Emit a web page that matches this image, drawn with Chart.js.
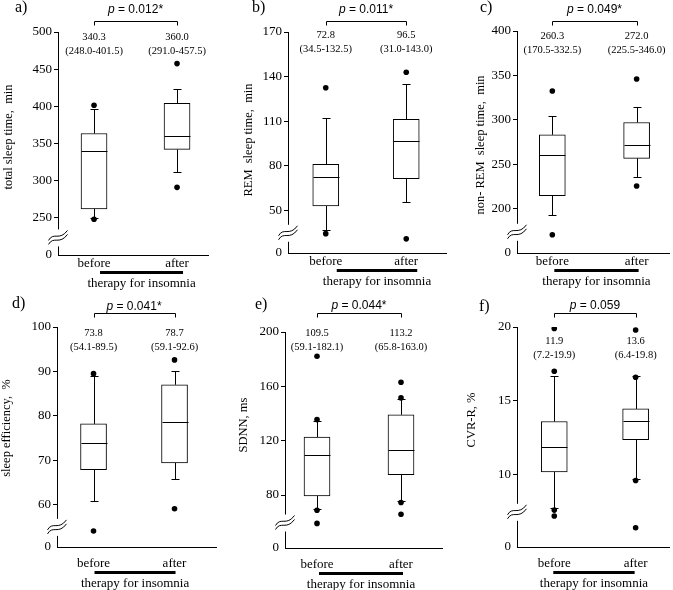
<!DOCTYPE html>
<html>
<head>
<meta charset="utf-8">
<script src="https://cdn.jsdelivr.net/npm/chart.js@4/dist/chart.umd.min.js"></script>
<style>
  html, body { margin: 0; padding: 0; background: #fff; }
  #wrap { position: relative; width: 673px; height: 590px; overflow: hidden; }
  #wrap canvas { position: absolute; }
</style>
</head>
<body>
<div id="wrap"></div>
<script>
const groups = ['before', 'after'];
const therapyLabel = 'therapy for insomnia';

// a) total sleep time  (box = q1, median, q3)
const tstTicks = [250, 300, 350, 400, 450, 500];
const tstBox = [[262, 340.3, 363.5], [342, 360.0, 404]];
const tstWhisker = [[250, 396], [312, 423]];
const tstOutliers = [[401.5, 248.0], [457.5, 291.0]];

// b) REM sleep time
const remTicks = [50, 80, 110, 140, 170];
const remBox = [[53.1, 72.8, 81.1], [71.5, 96.5, 111.3]];
const remWhisker = [[37, 112.5], [55.8, 134.9]];
const remOutliers = [[132.5, 34.5], [143.0, 31.0]];

// c) non-REM sleep time
const nremTicks = [200, 250, 300, 350, 400];
const nremBox = [[214.6, 260.3, 283.1], [256.6, 272.0, 297]];
const nremWhisker = [[193.3, 304.1], [235.6, 314.2]];
const nremOutliers = [[332.5, 170.5], [346.0, 225.5]];

// d) sleep efficiency
const seTicks = [60, 70, 80, 90, 100];
const seBox = [[67.9, 73.8, 78.2], [69.4, 78.7, 87.0]];
const seWhisker = [[60.8, 89.0], [65.8, 90.1]];
const seOutliers = [[89.5, 54.1], [92.6, 59.1]];

// e) SDNN
const sdnnTicks = [80, 120, 160, 200];
const sdnnBox = [[79.3, 109.5, 122.7], [95, 113.2, 139.1]];
const sdnnWhisker = [[69.5, 134.5], [75.5, 150.5]];
const sdnnOutliers = [[182.1, 135.5, 68.8, 59.1], [163.0, 151.5, 74.5, 65.8]];

// f) CVR-R
const cvrTicks = [10, 15, 20];
const cvrBox = [[10.18, 11.9, 13.6], [12.37, 13.6, 14.45]];
const cvrWhisker = [[7.75, 16.7], [9.7, 16.7]];
const cvrOutliers = [[19.9, 17.0, 7.6, 7.2], [19.8, 16.6, 9.6, 6.4]];

const letters = ['a)', 'b)', 'c)', 'd)', 'e)', 'f)'];
const yTitles = ['total sleep time,  min', 'REM  sleep time,  min', 'non- REM  sleep time,  min',
                 'sleep efficiency,  %', 'SDNN, ms', 'CVR-R, %'];
const pValues = ['0.012*', '0.011*', '0.049*', '0.041*', '0.044*', '0.059'];

// placement of each panel on the page (pixels) and of the axis break value
const layout = [
  { left: 0,   top: 0,   w: 220, h: 290, axisW: 58, padR: 12, padT: 32, xH: 35, yMin: 200,  xMin: 0.566, xMax: 2.373,
    letX: 15, letY: 8,  titX: 9,  titY: 137, pY: 10, brY: 21, annY: 37, labPad: 1, barShift: 6 },
  { left: 220, top: 0,   w: 230, h: 290, axisW: 68, padR: 3,  padT: 32, xH: 37, yMin: 21.5, xMin: 0.531, xMax: 2.494,
    letX: 32, letY: 8,  titX: 29, titY: 140, pY: 10, brY: 21, annY: 35, labPad: 1, barShift: 11 },
  { left: 440, top: 0,   w: 233, h: 290, axisW: 77, padR: 1,  padT: 31, xH: 37, yMin: 150,  xMin: 0.581, xMax: 2.384,
    letX: 40, letY: 8,  titX: 41, titY: 145, pY: 10, brY: 21, annY: 36, labPad: 1, barShift: 2 },
  { left: 0,   top: 290, w: 220, h: 300, axisW: 57, padR: 2,  padT: 37, xH: 43, yMin: 50.5, xMin: 0.549, xMax: 2.512,
    letX: 12, letY: 14, titX: 7,  titY: 138, pY: 17, brY: 23, annY: 43, labPad: 9, barShift: 1 },
  { left: 220, top: 290, w: 230, h: 300, axisW: 65, padR: 8,  padT: 42, xH: 42, yMin: 41,   xMin: 0.619, xMax: 2.488,
    letX: 35, letY: 15, titX: 24, titY: 135, pY: 16, brY: 23, annY: 43, labPad: 9, barShift: 2 },
  { left: 440, top: 290, w: 233, h: 300, axisW: 77, padR: 1,  padT: 37, xH: 43, yMin: 5.1,  xMin: 0.542, xMax: 2.41,
    letX: 39, letY: 17, titX: 32, titY: 130, pY: 16, brY: 23, annY: 51, labPad: 9, barShift: -1 }
];

const SERIF = "'Liberation Serif', 'DejaVu Serif', serif";
const SANS = "'Liberation Sans', Arial, sans-serif";
Chart.defaults.color = '#000';
Chart.defaults.font.family = SERIF;

const wrap = document.getElementById('wrap');

function makePanel(i, ticks, box, whisker, outliers) {
  const L = layout[i];
  const cv = document.createElement('canvas');
  cv.width = L.w; cv.height = L.h;
  cv.style.left = L.left + 'px'; cv.style.top = L.top + 'px';
  cv.style.width = L.w + 'px'; cv.style.height = L.h + 'px';
  wrap.appendChild(cv);

  const boxData = groups.map((g, k) => ({ x: k + 1, y: [box[k][0], box[k][2]] }));
  const outData = [];
  outliers.forEach((vals, k) => vals.forEach(v => outData.push({ x: k + 1, y: v })));

  const drawPanel = {
    id: 'panel' + i,
    afterDatasetsDraw(chart) {
      const { ctx, scales: { y } } = chart;
      const bars = chart.getDatasetMeta(0).data;
      ctx.save();
      ctx.strokeStyle = '#000';
      ctx.lineWidth = 1;
      bars.forEach((bar, k) => {
        const cx = Math.round(bar.x) + 0.5;
        const half = bar.width / 2;
        const yq1 = y.getPixelForValue(box[k][0]);
        const yq3 = y.getPixelForValue(box[k][2]);
        const ymed = Math.round(y.getPixelForValue(box[k][1])) + 0.5;
        const ylo = Math.round(y.getPixelForValue(whisker[k][0])) + 0.5;
        const yhi = Math.round(y.getPixelForValue(whisker[k][1])) + 0.5;
        ctx.beginPath();
        ctx.moveTo(cx - half, ymed); ctx.lineTo(cx + half, ymed);
        ctx.moveTo(cx, yq3); ctx.lineTo(cx, yhi);
        ctx.moveTo(cx - 4, yhi); ctx.lineTo(cx + 4, yhi);
        ctx.moveTo(cx, yq1); ctx.lineTo(cx, ylo);
        ctx.moveTo(cx - 4, ylo); ctx.lineTo(cx + 4, ylo);
        ctx.stroke();
      });
      ctx.restore();
    },
    afterDraw(chart) {
      const { ctx, chartArea: ca, scales: { x, y } } = chart;
      const x1 = x.getPixelForValue(1), x2 = x.getPixelForValue(2);
      ctx.save();
      ctx.strokeStyle = '#000';
      ctx.fillStyle = '#000';

      // y axis line with break
      const ax = Math.round(ca.left) + 0.5;
      const yLow = y.getPixelForValue(ticks[0]);
      const mid = (yLow + ca.bottom) / 2 + 1;
      ctx.lineWidth = 1;
      ctx.beginPath();
      ctx.moveTo(ax, ca.top); ctx.lineTo(ax, mid - 8);
      ctx.moveTo(ax, mid + 9); ctx.lineTo(ax, ca.bottom);
      ctx.stroke();
      ctx.lineWidth = 1;
      [-2, 2].forEach(d => {
        ctx.beginPath();
        ctx.moveTo(ax - 10, mid + 5 + d);
        ctx.bezierCurveTo(ax - 5, mid - 4 + d, ax + 1, mid + 6 + d, ax + 9, mid - 5 + d);
        ctx.stroke();
      });

      // panel letter
      ctx.textBaseline = 'middle';
      ctx.textAlign = 'left';
      ctx.font = '16px ' + SERIF;
      ctx.fillText(letters[i], L.letX, L.letY);

      // y axis title
      ctx.save();
      ctx.translate(L.titX, L.titY);
      ctx.rotate(-Math.PI / 2);
      ctx.textAlign = 'center';
      ctx.font = '12.5px ' + SERIF;
      ctx.fillText(yTitles[i], 0, 0);
      ctx.restore();

      // p value bracket
      ctx.lineWidth = 1;
      ctx.beginPath();
      ctx.moveTo(Math.round(x1) + 0.5, L.brY + 4.5);
      ctx.lineTo(Math.round(x1) + 0.5, L.brY + 0.5);
      ctx.lineTo(Math.round(x2) + 0.5, L.brY + 0.5);
      ctx.lineTo(Math.round(x2) + 0.5, L.brY + 4.5);
      ctx.stroke();
      ctx.font = 'italic 12px ' + SANS;
      const wp = ctx.measureText('p').width;
      ctx.font = '12px ' + SANS;
      const rest = ' = ' + pValues[i];
      const wr = ctx.measureText(rest).width;
      const px = (x1 + x2) / 2 - (wp + wr) / 2;
      ctx.textAlign = 'left';
      ctx.font = 'italic 12px ' + SANS;
      ctx.fillText('p', px, L.pY);
      ctx.font = '12px ' + SANS;
      ctx.fillText(rest, px + wp, L.pY);

      // median and range annotations
      ctx.textAlign = 'center';
      ctx.font = '10.5px ' + SERIF;
      [x1, x2].forEach((cx, k) => {
        const vals = outliers[k];
        const lo = Math.min(...vals), hi = Math.max(...vals);
        ctx.fillText(box[k][1].toFixed(1), cx, L.annY);
        ctx.fillText('(' + lo.toFixed(1) + '-' + hi.toFixed(1) + ')', cx, L.annY + 14);
      });

      // therapy bar and label
      const labY = ca.bottom + L.labPad + 7;
      ctx.lineWidth = 3;
      ctx.beginPath();
      ctx.moveTo(x1 + L.barShift, labY + 9.5);
      ctx.lineTo(x2 + L.barShift, labY + 9.5);
      ctx.stroke();
      ctx.font = '13px ' + SERIF;
      ctx.fillText(therapyLabel, (x1 + x2) / 2 + L.barShift, labY + 20.5);
      ctx.restore();
    }
  };

  new Chart(cv, {
    type: 'bar',
    data: {
      datasets: [
        { data: boxData, backgroundColor: '#fff', borderColor: '#000', borderWidth: 1,
          borderSkipped: false, barThickness: 26, order: 2 },
        { type: 'scatter', data: outData, pointRadius: 2.8, pointBackgroundColor: '#000',
          pointBorderColor: '#000', pointBorderWidth: 0, order: 1 }
      ]
    },
    options: {
      responsive: false,
      animation: false,
      events: [],
      layout: { padding: { left: 0, right: L.padR, top: L.padT, bottom: 0 } },
      plugins: { legend: { display: false }, tooltip: { enabled: false } },
      scales: {
        x: {
          type: 'linear', min: L.xMin, max: L.xMax, offset: false,
          afterBuildTicks: s => { s.ticks = groups.map((g, k) => ({ value: k + 1 })); },
          afterFit: s => { s.height = L.xH; },
          ticks: { callback: v => groups[Math.round(v) - 1], font: { size: 13 }, padding: L.labPad,
                   maxRotation: 0, autoSkip: false },
          grid: { display: false, drawTicks: false, offset: false },
          border: { display: true, color: '#000', width: 1 }
        },
        y: {
          min: L.yMin, max: ticks[ticks.length - 1],
          afterBuildTicks: s => { s.ticks = [L.yMin, ...ticks].map(v => ({ value: v })); },
          afterFit: s => { s.width = L.axisW; },
          ticks: { callback: v => (v === L.yMin ? '0' : String(v)), font: { size: 13 }, padding: 2,
                   autoSkip: false },
          grid: { drawOnChartArea: false, drawTicks: true, tickLength: 4,
                  color: c => (c.tick && c.tick.value === L.yMin ? 'rgba(0,0,0,0)' : '#000') },
          border: { display: false }
        }
      }
    },
    plugins: [drawPanel]
  });
}

makePanel(0, tstTicks, tstBox, tstWhisker, tstOutliers);
makePanel(1, remTicks, remBox, remWhisker, remOutliers);
makePanel(2, nremTicks, nremBox, nremWhisker, nremOutliers);
makePanel(3, seTicks, seBox, seWhisker, seOutliers);
makePanel(4, sdnnTicks, sdnnBox, sdnnWhisker, sdnnOutliers);
makePanel(5, cvrTicks, cvrBox, cvrWhisker, cvrOutliers);
</script>
</body>
</html>
